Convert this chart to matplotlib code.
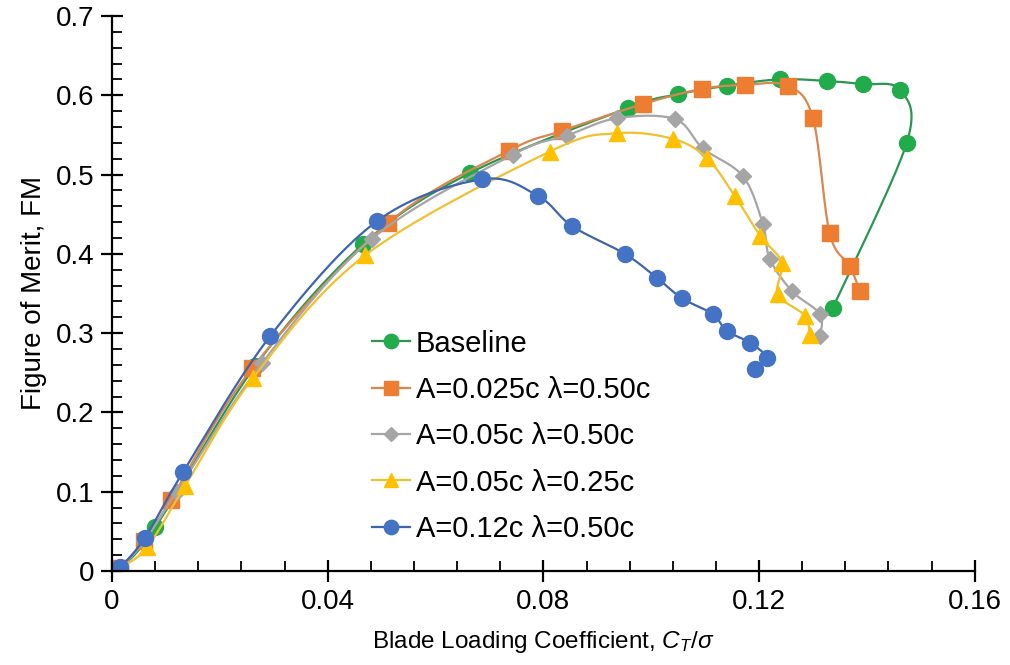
import numpy as np
import matplotlib.pyplot as plt
from matplotlib.ticker import MultipleLocator, FuncFormatter

plt.rcParams['font.family'] = ['Liberation Sans', 'DejaVu Sans']
plt.rcParams['mathtext.fontset'] = 'custom'
plt.rcParams['mathtext.it'] = 'Liberation Sans:italic'
plt.rcParams['mathtext.rm'] = 'Liberation Sans'

# data (C_T/sigma, FM)
base_x = [0, 0.0015, 0.008, 0.0265, 0.0465, 0.0664, 0.0957, 0.1049, 0.1140, 0.1238,
          0.1326, 0.1392, 0.1461, 0.1474, 0.1337]
base_y = [0, 0.004, 0.055, 0.258, 0.412, 0.502, 0.584, 0.601, 0.612, 0.620,
          0.618, 0.614, 0.607, 0.540, 0.332]

a025_x = [0, 0.0015, 0.006, 0.0109, 0.0260, 0.0512, 0.0736, 0.0834, 0.0985, 0.1094,
          0.1174, 0.1253, 0.1300, 0.1331, 0.1368, 0.1387]
a025_y = [0, 0.004, 0.038, 0.090, 0.256, 0.439, 0.530, 0.555, 0.589, 0.608,
          0.613, 0.612, 0.571, 0.426, 0.385, 0.353]

a05_x = [0, 0.0015, 0.006, 0.012, 0.0278, 0.0482, 0.0743, 0.0843, 0.0936, 0.1044,
         0.1096, 0.1170, 0.1207, 0.1220, 0.1261, 0.1313, 0.1313]
a05_y = [0, 0.004, 0.038, 0.100, 0.262, 0.419, 0.525, 0.549, 0.571, 0.570,
         0.533, 0.498, 0.438, 0.394, 0.353, 0.324, 0.296]

a05s_x = [0, 0.0015, 0.0065, 0.0135, 0.0261, 0.0469, 0.0812, 0.0936, 0.1040, 0.1103,
          0.1155, 0.1202, 0.1242, 0.1235, 0.1285, 0.1294]
a05s_y = [0, 0.004, 0.030, 0.107, 0.243, 0.398, 0.529, 0.552, 0.545, 0.521,
          0.473, 0.423, 0.389, 0.349, 0.322, 0.297]

a12_x = [0, 0.0015, 0.0061, 0.0132, 0.0293, 0.0491, 0.0686, 0.0790, 0.0853, 0.0951,
         0.1010, 0.1057, 0.1114, 0.1140, 0.1183, 0.1214, 0.1192]
a12_y = [0, 0.005, 0.042, 0.125, 0.296, 0.441, 0.494, 0.473, 0.435, 0.400,
         0.370, 0.344, 0.324, 0.303, 0.288, 0.269, 0.255]

labels = ['Baseline', 'A=0.025c λ=0.50c', 'A=0.05c λ=0.50c',
          'A=0.05c λ=0.25c', 'A=0.12c λ=0.50c']


def smooth(x, y, sx=863 / 0.16, sy=555 / 0.7, n=20):
    # Excel-style smoothed line (Catmull-Rom bezier in screen units)
    p = np.column_stack([np.array(x) * sx, np.array(y) * sy])
    out = [p[0]]
    for i in range(len(p) - 1):
        p0 = p[i - 1] if i > 0 else p[i]
        p1, p2 = p[i], p[i + 1]
        p3 = p[i + 2] if i + 2 < len(p) else p[i + 1]
        b1 = p1 + (p2 - p0) / 6
        b2 = p2 - (p3 - p1) / 6
        t = np.linspace(0, 1, n)[1:, None]
        seg = ((1 - t) ** 3 * p1 + 3 * (1 - t) ** 2 * t * b1
               + 3 * (1 - t) * t ** 2 * b2 + t ** 3 * p2)
        out.extend(seg)
    out = np.array(out)
    return out[:, 0] / sx, out[:, 1] / sy


fig = plt.figure(figsize=(10.1, 6.65), dpi=100)
ax = fig.add_axes([0.111, 0.1414, 0.854, 0.8346])

series = [
    (base_x, base_y, '#22ab4b', '#2a9650', 'o', 11.5),
    (a025_x, a025_y, '#ed7d31', '#d9874f', 's', 11),
    (a05_x, a05_y, '#a5a5a5', '#a5a5a5', 'D', 8),
    (a05s_x, a05s_y, '#ffc000', '#f0c030', '^', 11.5),
    (a12_x, a12_y, '#4472c4', '#3d64ad', 'o', 11.5),
]

for (x, y, mc, lc, m, ms), lab in zip(series, labels):
    sx, sy = smooth(x, y)
    ax.plot(sx, sy, color=lc, linewidth=1.6)
    ax.plot(x, y, linestyle='none', marker=m, markersize=ms, color=mc)
    ax.plot([], [], color=lc, linewidth=1.6, marker=m, markersize=ms * 0.9,
            markerfacecolor=mc, markeredgecolor=mc, label=lab)

ax.set_xlim(0, 0.16)
ax.set_ylim(0, 0.7)
ax.xaxis.set_major_locator(MultipleLocator(0.04))
ax.xaxis.set_minor_locator(MultipleLocator(0.008))
ax.yaxis.set_major_locator(MultipleLocator(0.1))
ax.yaxis.set_minor_locator(MultipleLocator(0.02))
fmt = FuncFormatter(lambda v, pos: '0' if abs(v) < 1e-9 else f'{v:g}')
ax.xaxis.set_major_formatter(fmt)
ax.yaxis.set_major_formatter(fmt)

for s in ['top', 'right']:
    ax.spines[s].set_visible(False)
for s in ['left', 'bottom']:
    ax.spines[s].set_linewidth(1.6)
ax.tick_params(which='major', direction='inout', length=16, width=1.6,
               labelsize=20, pad=5)
ax.tick_params(which='minor', direction='in', length=7, width=1.3)

ax.set_xlabel('Blade Loading Coefficient, $C_T/\\sigma$', fontsize=17.5, labelpad=10)
ax.set_ylabel('Figure of Merit, FM', fontsize=20, labelpad=6)

ax.legend(loc='upper left', bbox_to_anchor=(0.357, 0.522),
          bbox_transform=fig.transFigure, frameon=False, fontsize=21,
          handlelength=1.3, handletextpad=0.2, labelspacing=0.63,
          borderaxespad=0)

fig.savefig('out.png', dpi=100)
